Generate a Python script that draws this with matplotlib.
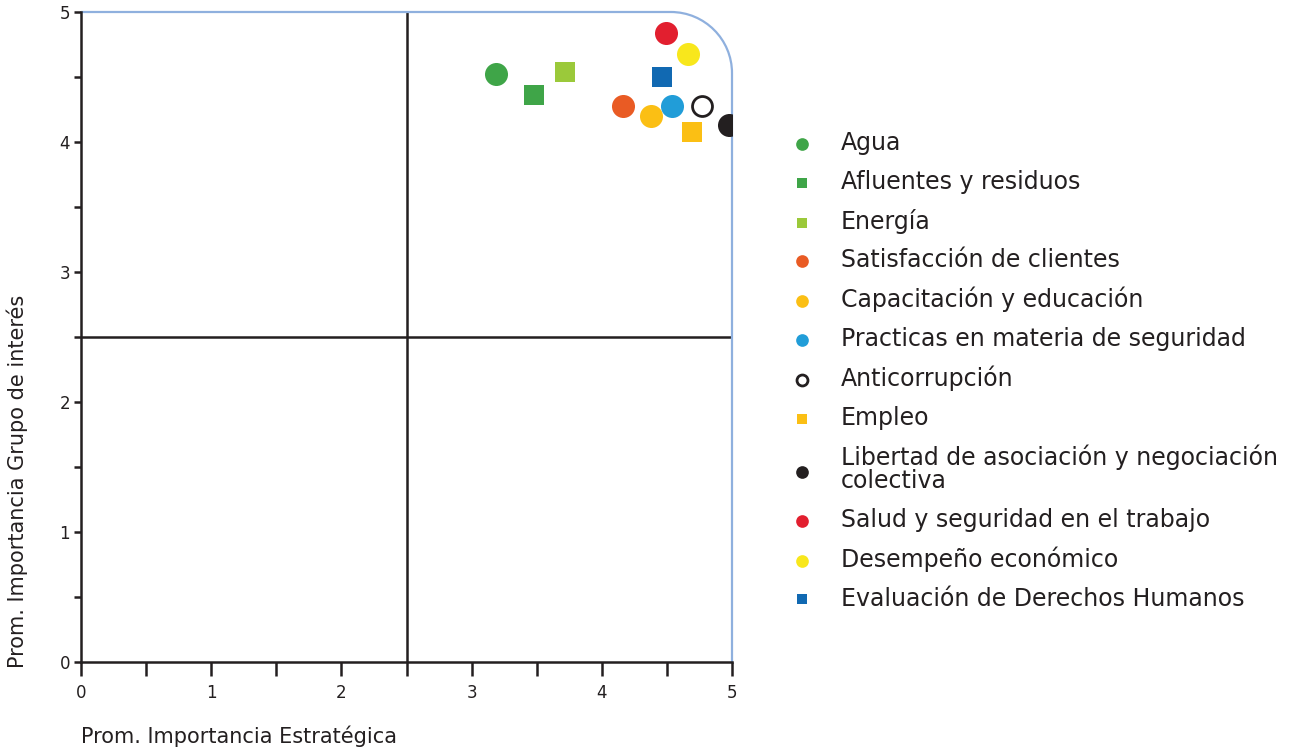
import matplotlib.pyplot as plt
from matplotlib.path import Path
from matplotlib.patches import PathPatch
from matplotlib.ticker import MultipleLocator

# data
labels = ["Agua", "Afluentes y residuos", "Energía", "Satisfacción de clientes",
          "Capacitación y educación", "Practicas en materia de seguridad",
          "Anticorrupción", "Empleo", "Libertad de asociación y negociación\ncolectiva",
          "Salud y seguridad en el trabajo", "Desempeño económico",
          "Evaluación de Derechos Humanos"]
x_vals = [3.19, 3.48, 3.72, 4.16, 4.38, 4.54, 4.77, 4.69, 4.98, 4.49, 4.66, 4.46]
y_vals = [4.52, 4.36, 4.54, 4.28, 4.20, 4.28, 4.28, 4.08, 4.13, 4.84, 4.68, 4.50]
shapes = ["o", "s", "s", "o", "o", "o", "o", "s", "o", "o", "o", "s"]
colors = ["#3fa548", "#3fa548", "#9bc93a", "#e95b24", "#fbbf14", "#219dd8",
          "white", "#fbbf14", "#231f20", "#e21f2f", "#f8e71c", "#1169b2"]

dark = "#231f20"
blue = "#8fb0de"

fig = plt.figure(figsize=(13.11, 7.53), dpi=100)
ax = fig.add_axes([81 / 1311, 91 / 753, 651 / 1311, 650 / 753])
ax.set_xlim(0, 5)
ax.set_ylim(0, 5)

# quadrant lines
ax.axvline(2.5, color=dark, lw=1.8, zorder=1)
ax.axhline(2.5, color=dark, lw=1.8, zorder=1)

for xv, yv, m, c, lab in zip(x_vals, y_vals, shapes, colors, labels):
    size = 275 if m == "o" else 200
    if c == "white":
        ax.scatter(xv, yv, s=size * 0.75, marker=m, facecolor="white",
                   edgecolor=dark, linewidth=2, label=lab, zorder=3)
    else:
        ax.scatter(xv, yv, s=size, marker=m, color=c, linewidth=0,
                   label=lab, zorder=3)

# frame: black left/bottom, light blue top/right with a rounded corner
for side in ["top", "right"]:
    ax.spines[side].set_visible(False)
for side in ["left", "bottom"]:
    ax.spines[side].set_color(dark)
    ax.spines[side].set_linewidth(1.8)
    ax.spines[side].set_zorder(4)

r = 0.47
k = 0.5523 * r
verts = [(0, 5), (5 - r, 5), (5 - r + k, 5), (5, 5 - r + k), (5, 5 - r), (5, 0)]
codes = [Path.MOVETO, Path.LINETO, Path.CURVE4, Path.CURVE4, Path.CURVE4, Path.LINETO]
ax.add_patch(PathPatch(Path(verts, codes), fill=False, edgecolor=blue,
                       lw=1.6, clip_on=False, zorder=2))

ax.xaxis.set_major_locator(MultipleLocator(1))
ax.xaxis.set_minor_locator(MultipleLocator(0.5))
ax.yaxis.set_major_locator(MultipleLocator(1))
ax.yaxis.set_minor_locator(MultipleLocator(0.5))
ax.tick_params(which="both", direction="out", color=dark, width=1.8, length=10,
               labelsize=12, labelcolor=dark)
ax.tick_params(axis="x", which="both", pad=6)
ax.tick_params(axis="y", which="both", length=5, pad=3)

ax.set_xlabel("Prom. Importancia Estratégica", loc="left", fontsize=15,
              color=dark, labelpad=17)
ax.set_ylabel("Prom. Importancia Grupo de interés", loc="bottom", fontsize=15,
              color=dark)
ax.yaxis.set_label_coords(-0.082, -0.01)

leg = ax.legend(loc="upper left", bbox_to_anchor=(782 / 1311, 1 - 122 / 753),
                bbox_transform=fig.transFigure, frameon=False, fontsize=17,
                markerscale=0.55, handletextpad=1.2, labelspacing=0.62,
                borderaxespad=0, handlelength=0.9)
for t in leg.get_texts():
    t.set_color(dark)
    t.set_linespacing(0.95)

fig.savefig("out.png", dpi=100)
